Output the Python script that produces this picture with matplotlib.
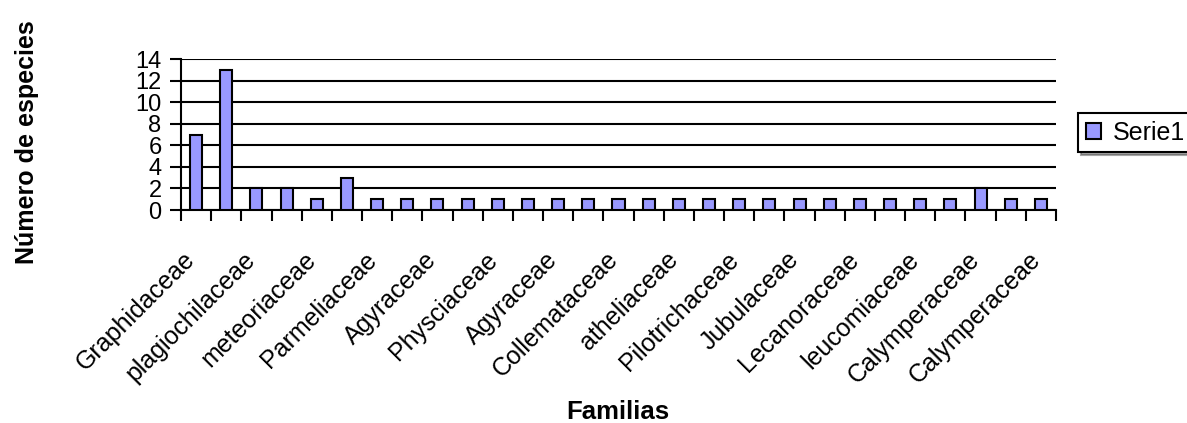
import numpy as np
import matplotlib.pyplot as plt
from matplotlib.ticker import FixedLocator, NullFormatter
from matplotlib.transforms import ScaledTranslation

plt.rcParams['font.family'] = ['Liberation Sans', 'DejaVu Sans']

# Number of species for each family (29 families, labels shown every other one)
especies = [7, 13, 2, 2, 1, 3, 1, 1, 1, 1,
            1, 1, 1, 1, 1, 1, 1, 1, 1, 1,
            1, 1, 1, 1, 1, 1, 2, 1, 1]
familias_visibles = ['Graphidaceae', 'plagiochilaceae', 'meteoriaceae', 'Parmeliaceae',
                     'Agyraceae', 'Physciaceae', 'Agyraceae', 'Collemataceae',
                     'atheliaceae', 'Pilotrichaceae', 'Jubulaceae', 'Lecanoraceae',
                     'leucomiaceae', 'Calymperaceae', 'Calymperaceae']
y_ticks = [0, 2, 4, 6, 8, 10, 12, 14]

x = np.arange(len(especies))

fig = plt.figure(figsize=(11.87, 4.23), dpi=100)
ax = fig.add_axes([181 / 1187, 1 - 210 / 423, (1056 - 181) / 1187, (210 - 59) / 423])

bars = ax.bar(x, especies, width=0.4, color='#9999ff', edgecolor='black',
              linewidth=1.5, zorder=3, label='Serie1')

ax.set_xlim(-0.5, len(especies) - 0.5)
ax.set_ylim(0, 14)
ax.set_yticks(y_ticks)
ax.yaxis.grid(True, color='black', linewidth=1.5)
ax.set_axisbelow(True)

# tick marks between categories, labels on every other category
ax.xaxis.set_major_locator(FixedLocator(np.arange(-0.5, len(especies), 1.0)))
ax.xaxis.set_major_formatter(NullFormatter())
ax.set_xticks(x[::2], minor=True)
ax.set_xticklabels(familias_visibles, minor=True, rotation=45, ha='right',
                   va='top', rotation_mode='anchor', fontsize=18)
ax.tick_params(axis='x', which='major', direction='out', length=8, width=1.5)
ax.tick_params(axis='x', which='minor', length=0, pad=27)
ax.tick_params(axis='y', direction='out', length=8, width=1.5, labelsize=17, pad=6)

# nudge the slanted labels a little to the left
shift = ScaledTranslation(-0.13, 0, fig.dpi_scale_trans)
for lab in ax.get_xticklabels(minor=True):
    lab.set_transform(lab.get_transform() + shift)

for side in ['top', 'right']:
    ax.spines[side].set_visible(False)
for side in ['left', 'bottom']:
    ax.spines[side].set_linewidth(1.5)

fig.text(618 / 1187, 1 - 412 / 423, 'Familias', fontsize=18.5, fontweight='bold',
         ha='center', va='center')
fig.text(27 / 1187, 1 - 142 / 423, 'Número de especies', fontsize=18,
         fontweight='bold', rotation=90, ha='center', va='center')

leg = fig.legend(handles=[bars], loc='upper left',
                 bbox_to_anchor=(1078 / 1187, 1 - 113 / 423),
                 fontsize=18, frameon=True, fancybox=False, shadow=True,
                 handlelength=0.6, handleheight=0.6, handletextpad=0.5,
                 borderpad=0.3, borderaxespad=0)
leg.get_frame().set_edgecolor('black')
leg.get_frame().set_linewidth(1.5)

fig.savefig('out.png', dpi=100)
